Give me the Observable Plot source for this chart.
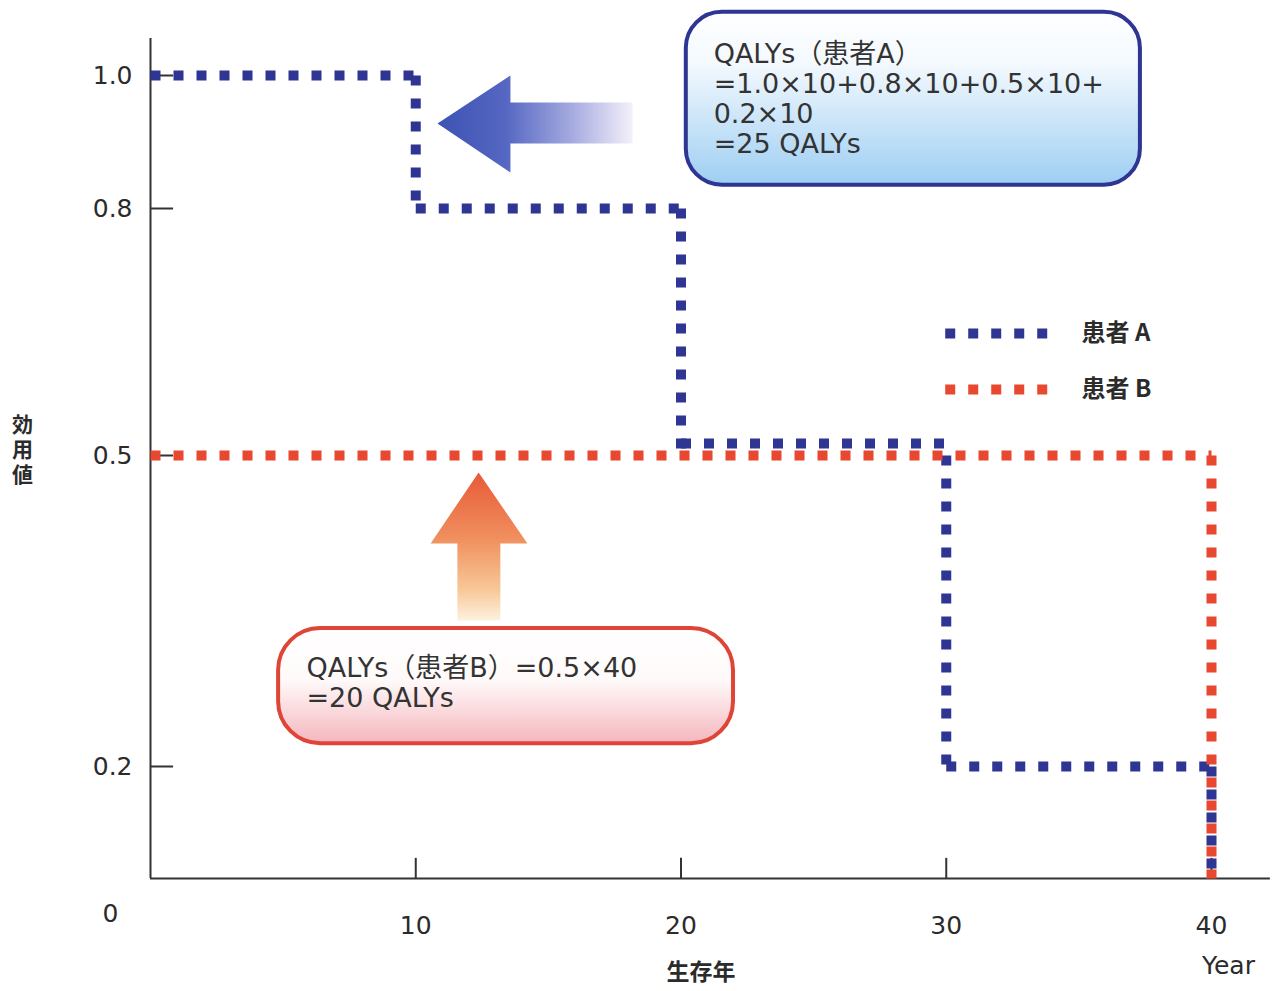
<!DOCTYPE html>
<html>
<head>
<meta charset="utf-8">
<script src="https://cdn.jsdelivr.net/npm/d3@7"></script>
<script src="https://cdn.jsdelivr.net/npm/@observablehq/plot@0.6"></script>
<style>
  html, body { margin: 0; padding: 0; background: #fff; }
  #chart svg { display: block; }
</style>
</head>
<body>
<div id="chart"></div>
<script>
// Utility value for each decade of survival, per patient
const periodStart = [0, 10, 20, 30];
const periodEnd   = [10, 20, 30, 40];
const utilityA    = [1.0, 0.8, 0.5, 0.2];
const utilityB    = [0.5, 0.5, 0.5, 0.5];

// Axis ticks and labels
const yearTicks    = [10, 20, 30, 40];
const utilityTicks = [0.2, 0.5, 0.8, 1.0];
const seriesNames  = ["患者 A", "患者 B"];
const yTitle = "効用値";
const xTitle = "生存年";
const xUnit  = "Year";

// Annotation texts
const noteA = ["QALYs（患者A）", "=1.0×10+0.8×10+0.5×10+", "0.2×10", "=25 QALYs"];
const noteB = ["QALYs（患者B）=0.5×40", "=20 QALYs"];

const colorA = "#2f3592";
const colorB = "#e8482f";
const ink = "#2b2b2b";
const font = "'DejaVu Sans', 'Noto Sans CJK JP', sans-serif";
const cjk = "'Noto Sans CJK JP', sans-serif";

// The utility axis is drawn with uneven spacing between its ticks
const utilityPosition = d3.scaleLinear()
  .domain([0, 0.2, 0.5, 0.8, 1.0])
  .range([0, 112, 423, 670, 803]);

// Build step segments (horizontal levels and vertical drops) from a utility series
function steps(util) {
  const segs = [];
  util.forEach((u, i) => {
    const last = segs.length ? segs[segs.length - 1] : null;
    if (last && last.kind === "level" && last.y1 === u && last.x2 === periodStart[i]) {
      last.x2 = periodEnd[i];
    } else {
      segs.push({kind: "level", x1: periodStart[i], x2: periodEnd[i], y1: u, y2: u});
    }
    const next = i + 1 < util.length ? util[i + 1] : 0;
    if (next !== u) segs.push({kind: "drop", x1: periodEnd[i], x2: periodEnd[i], y1: u, y2: next});
  });
  return segs;
}
const segA = steps(utilityA);
const segB = steps(utilityB);
// A level that coincides with B's level is drawn slightly above it
const sharesB = s => s.kind === "level" && utilityB[periodStart.indexOf(s.x1)] === s.y1;

const dash = {strokeWidth: 10, strokeDasharray: "10 13", strokeLinecap: "butt"};

// Annotation placement (in years / utility units)
const boxA = {x1: 20.2, x2: 37.32, y1: 0.835, y2: 1.095};
const boxB = {x1: 4.83, x2: 21.98, y1: 0.222, y2: 0.333};
const arrowA = [
  {x: 10.82, y: 0.9278}, {x: 13.57, y: 1.0}, {x: 13.57, y: 0.9594}, {x: 18.17, y: 0.9594},
  {x: 18.17, y: 0.8977}, {x: 13.57, y: 0.8977}, {x: 13.57, y: 0.8541}, {x: 10.82, y: 0.9278}
];
const arrowB = [
  {x: 12.37, y: 0.4836}, {x: 14.21, y: 0.4151}, {x: 13.19, y: 0.4151}, {x: 13.19, y: 0.3408},
  {x: 11.57, y: 0.3408}, {x: 11.57, y: 0.4151}, {x: 10.56, y: 0.4151}, {x: 12.37, y: 0.4836}
];
const legendRows = seriesNames.map((name, i) => ({name, y: [0.6482, 0.5802][i], color: [colorA, colorB][i]}));

// Vertical axis title, one character per row
const yTitleMarks = yTitle.split("").map((ch, i) =>
  Plot.text([ch], {x: 0, y: 0.5, dx: -128, dy: -30 + i * 25, text: d => d, fontSize: 21, fontWeight: "bold", fontFamily: cjk, fill: ink})
);

const chart = Plot.plot({
  width: 1279,
  height: 991,
  margin: 0,
  style: {background: "#fff", fontFamily: font},
  x: {domain: [0, 40], range: [150, 1211], axis: null},
  y: {transform: utilityPosition, domain: [0, 840], range: [878, 38], axis: null},
  marks: [
    // Annotation boxes
    Plot.rect([boxA], {x1: "x1", x2: "x2", y1: "y1", y2: "y2", rx: 36, fill: "url(#boxA)", stroke: colorA, strokeWidth: 4}),
    Plot.rect([boxB], {x1: "x1", x2: "x2", y1: "y1", y2: "y2", rx: 42, fill: "url(#boxB)", stroke: "#df4537", strokeWidth: 4}),
    // Arrows
    Plot.line(arrowA, {x: "x", y: "y", fill: "url(#arrowA)", stroke: "none"}),
    Plot.line(arrowB, {x: "x", y: "y", fill: "url(#arrowB)", stroke: "none"}),
    // Axis frame
    Plot.ruleX([0], {y1: 0, y2: 1.0556, stroke: "#333", strokeWidth: 2}),
    Plot.ruleY([0], {x1: 0, x2: 42.22, stroke: "#333", strokeWidth: 2}),
    Plot.ruleX(yearTicks, {y1: 0, y2: 0.036, stroke: "#333", strokeWidth: 2}),
    Plot.ruleY(utilityTicks, {x1: 0, x2: 0.87, stroke: "#333", strokeWidth: 2}),
    // Tick labels
    Plot.text(yearTicks, {x: d => d, y: 0, dy: 47, text: d => String(d), fontSize: 25, fill: ink}),
    Plot.text(["0"], {x: 0, y: 0, dx: -40, dy: 35, text: d => d, fontSize: 25, fill: ink}),
    Plot.text(utilityTicks, {x: 0, y: d => d, dx: -18, text: d => d.toFixed(1), textAnchor: "end", fontSize: 25, fill: ink}),
    // Axis titles
    ...yTitleMarks,
    Plot.text([xTitle], {x: 20, y: 0, dx: 20, dy: 94, text: d => d, fontSize: 23, fontWeight: "bold", fontFamily: cjk, fill: ink}),
    Plot.text([xUnit], {x: 40, y: 0, dx: 17, dy: 87, text: d => d, fontSize: 25, fill: ink}),
    // Patient A (steps) and patient B (constant) utility over time
    Plot.link(segA.filter(s => !sharesB(s)), {x1: "x1", x2: "x2", y1: "y1", y2: "y2", stroke: colorA, ...dash}),
    Plot.link(segA.filter(sharesB), {x1: "x1", x2: "x2", y1: "y1", y2: "y2", dy: -12, stroke: colorA, ...dash}),
    Plot.link(segB, {x1: "x1", x2: "x2", y1: "y1", y2: "y2", stroke: colorB, ...dash}),
    // Legend
    Plot.ruleY(legendRows, {y: "y", x1: 29.98, x2: 33.93, stroke: "color", ...dash}),
    Plot.text(legendRows, {y: "y", x: 35.1, text: "name", textAnchor: "start", fontSize: 24, fontWeight: "bold", fontFamily: cjk, fill: ink}),
    // Annotation notes
    Plot.text([noteA.join("\n")], {x: 21.23, y: 0.966, text: d => d, textAnchor: "start", lineHeight: 1.11, fontSize: 27, fill: "#333"}),
    Plot.text([noteB.join("\n")], {x: 5.88, y: 0.281, text: d => d, textAnchor: "start", lineHeight: 1.11, fontSize: 27, fill: "#333"})
  ]
});

// Gradients used by the boxes and arrows
const defs = d3.select(chart).insert("defs", ":first-child");
function gradient(id, x2, y2, stops) {
  const g = defs.append("linearGradient").attr("id", id)
    .attr("x1", 0).attr("y1", 0).attr("x2", x2).attr("y2", y2);
  stops.forEach(([o, c]) => g.append("stop").attr("offset", o).attr("stop-color", c));
}
gradient("boxA", 0, 1, [[0, "#ffffff"], [0.3, "#f3f9fe"], [1, "#9ecef3"]]);
gradient("boxB", 0, 1, [[0, "#ffffff"], [0.45, "#fffafa"], [1, "#f4b6bd"]]);
gradient("arrowA", 1, 0, [[0, "#3d52b2"], [0.35, "#5567c2"], [0.7, "#a8ade0"], [1, "#f4f0fb"]]);
gradient("arrowB", 0, 1, [[0, "#e85a38"], [0.45, "#f0905e"], [0.8, "#f8c99a"], [1, "#fdf2df"]]);

document.getElementById("chart").append(chart);
</script>
</body>
</html>
